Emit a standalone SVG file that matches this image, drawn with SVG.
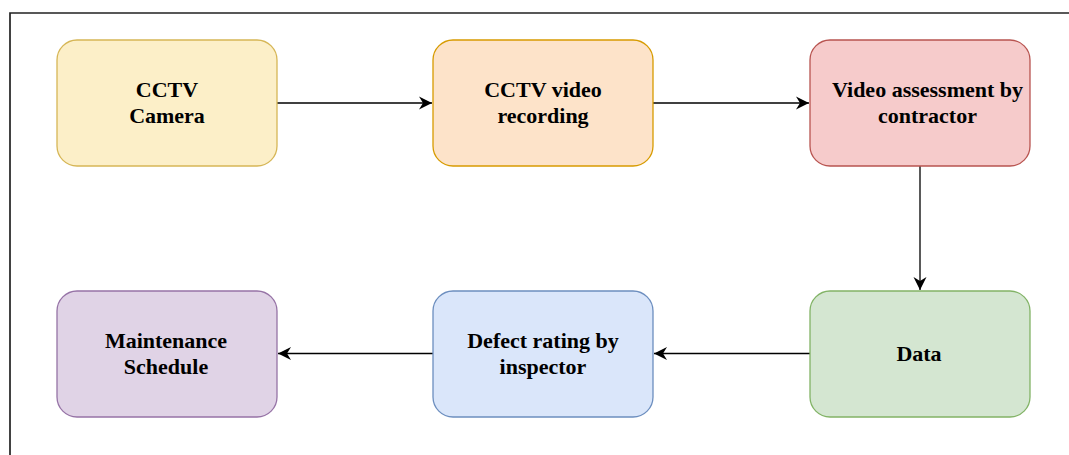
<svg xmlns="http://www.w3.org/2000/svg" width="1069" height="455" viewBox="0 0 1069 455">
  <style>
    .box { stroke-width: 1.3; }
    .lbl { font-family: "Liberation Serif", "Times New Roman", serif; font-weight: bold; font-size: 22px; fill: #000; text-anchor: middle; }
    .edge { fill: none; stroke: #000; stroke-width: 1.3; marker-end: url(#arrow); }
  </style>
  <defs>
    <marker id="arrow" markerUnits="userSpaceOnUse" markerWidth="16" markerHeight="16" viewBox="-14 -8 16 16" refX="0" refY="0" orient="auto">
      <path d="M0,0 L-13,-6.5 L-9,0 L-13,6.5 Z" fill="#000"/>
    </marker>
  </defs>
  <rect width="1069" height="455" fill="#fff"/>
  <!-- outer frame, open on the right and bottom -->
  <path d="M1069,13 L10,13 L10,455" fill="none" stroke="#222" stroke-width="1.7"/>

  <g id="connectors">
    <path class="edge" d="M277,103 L432,103"/>
    <path class="edge" d="M653,103 L809,103"/>
    <path class="edge" d="M920,166 L920,290"/>
    <path class="edge" d="M810,353.5 L654,353.5"/>
    <path class="edge" d="M433,353.5 L278,353.5"/>
  </g>

  <g id="cctv-camera">
    <rect class="box" x="57" y="40" width="220" height="126" rx="20" fill="#fcefc8" stroke="#d6b656"/>
    <text class="lbl" x="167" y="97">CCTV</text>
    <text class="lbl" x="167" y="123">Camera</text>
  </g>
  <g id="cctv-recording">
    <rect class="box" x="433" y="40" width="220" height="126" rx="20" fill="#fde3c9" stroke="#d79b00"/>
    <text class="lbl" x="543" y="97">CCTV video</text>
    <text class="lbl" x="543" y="123">recording</text>
  </g>
  <g id="video-assessment">
    <rect class="box" x="810" y="40" width="220" height="126" rx="20" fill="#f6cbcb" stroke="#b85450"/>
    <text class="lbl" x="927.5" y="97">Video assessment by</text>
    <text class="lbl" x="927.5" y="123">contractor</text>
  </g>
  <g id="data">
    <rect class="box" x="810" y="291" width="220" height="126" rx="20" fill="#d4e6d1" stroke="#82b366"/>
    <text class="lbl" x="919" y="361">Data</text>
  </g>
  <g id="defect-rating">
    <rect class="box" x="433" y="291" width="220" height="126" rx="20" fill="#dae6fa" stroke="#6c8ebf"/>
    <text class="lbl" x="543" y="348">Defect rating by</text>
    <text class="lbl" x="543" y="374">inspector</text>
  </g>
  <g id="maintenance-schedule">
    <rect class="box" x="57" y="291" width="220" height="126" rx="20" fill="#e0d3e6" stroke="#9673a6"/>
    <text class="lbl" x="166" y="348">Maintenance</text>
    <text class="lbl" x="166" y="374">Schedule</text>
  </g>
</svg>
